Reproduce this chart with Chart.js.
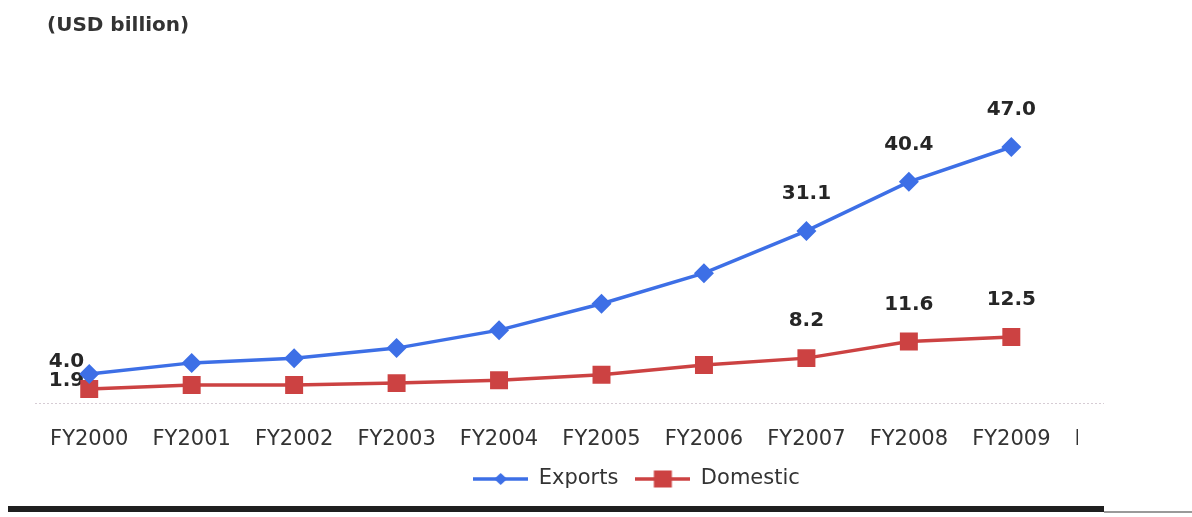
<!DOCTYPE html>
<html>
<head>
<meta charset="utf-8">
<script src="https://cdn.jsdelivr.net/npm/chart.js@4.4.0/dist/chart.umd.min.js"></script>
<style>
  html, body { margin: 0; padding: 0; background: #ffffff; }
  #wrap { width: 1192px; height: 517px; }
</style>
</head>
<body>
<div id="wrap"><canvas id="chart" width="1192" height="517"></canvas></div>
<script>
// Fiscal years on the category axis (the last one is cut off by the page edge)
const categories = ['FY2000', 'FY2001', 'FY2002', 'FY2003', 'FY2004', 'FY2005',
                    'FY2006', 'FY2007', 'FY2008', 'FY2009', 'FY2010'];
// Output in USD billion
const exportsValues  = [4.0, 6.1, 7.0, 8.9, 12.3, 17.3, 23.1, 31.1, 40.4, 47.0, null];
const domesticValues = [1.9, 2.7, 2.7, 3.1, 3.7, 4.8, 6.8, 8.2, 11.6, 12.5, null];
// Points whose value is printed next to the marker
const labelledPoints = [0, 7, 8, 9];

const BLUE = '#3d6fe6';
const RED = '#cc4242';
const TEXT = '#333333';

// Legend swatch: a short line with the series marker in the middle
function legendIcon(color, marker) {
  const c = document.createElement('canvas');
  c.width = 55; c.height = 20;
  const g = c.getContext('2d');
  g.strokeStyle = color; g.lineWidth = 3.5;
  g.beginPath(); g.moveTo(0, 10); g.lineTo(55, 10); g.stroke();
  g.fillStyle = color;
  if (marker === 'diamond') {
    g.beginPath();
    g.moveTo(27.5, 4); g.lineTo(34, 10); g.lineTo(27.5, 16); g.lineTo(21, 10);
    g.closePath(); g.fill();
  } else {
    g.fillRect(18.5, 1.5, 18, 17);
  }
  return c;
}
const icons = [legendIcon(BLUE, 'diamond'), legendIcon(RED, 'square')];

// Value labels above (or left of, for the first year) the marked points
const valueLabels = {
  id: 'valueLabels',
  beforeDatasetsDraw(chart) {
    const ctx = chart.ctx;
    ctx.save();
    ctx.font = 'bold 20px "DejaVu Sans"';
    ctx.fillStyle = '#262626';
    ctx.textBaseline = 'middle';
    chart.data.datasets.forEach((ds, di) => {
      const meta = chart.getDatasetMeta(di);
      labelledPoints.forEach(i => {
        const pt = meta.data[i];
        const text = ds.data[i].toFixed(1);
        if (i === 0) {
          ctx.textAlign = 'right';
          ctx.fillText(text, pt.x - 5, pt.y - (di === 0 ? 12 : 8));
        } else {
          ctx.textAlign = 'center';
          ctx.fillText(text, pt.x, pt.y - 37);
        }
      });
    });
    ctx.restore();
  }
};

// Dotted baseline under the plot, page rule at the bottom, and the page edge
// that cuts off the last category name
const frame = {
  id: 'frame',
  afterLayout(chart) {
    chart.titleBlock.left += 9; chart.titleBlock.right += 9;
    const lg = chart.legend;
    lg.left += 35; lg.right += 35;
    lg.top -= 25.5; lg.bottom -= 25.5;
  },
  beforeDatasetsDraw(chart) {
    const { ctx, chartArea } = chart;
    ctx.save();
    ctx.strokeStyle = '#d6ccd4';
    ctx.lineWidth = 1;
    ctx.setLineDash([2, 2]);
    ctx.beginPath();
    ctx.moveTo(chartArea.left - 3, chartArea.bottom + 0.5);
    ctx.lineTo(chartArea.right - 61, chartArea.bottom + 0.5);
    ctx.stroke();
    ctx.restore();
  },
  afterDraw(chart) {
    const { ctx, chartArea, scales } = chart;
    ctx.save();
    ctx.fillStyle = '#ffffff';
    ctx.fillRect(1078, scales.x.top + 10, chart.width - 1078, 50);
    const ruleEnd = chartArea.right - 61;
    ctx.fillStyle = '#1f1f1f';
    ctx.fillRect(8, 506, ruleEnd - 8, 6);
    ctx.fillStyle = '#9a9a9a';
    ctx.fillRect(ruleEnd, 511, chart.width - ruleEnd, 2);
    ctx.restore();
  }
};

new Chart(document.getElementById('chart'), {
  type: 'line',
  data: {
    labels: categories,
    datasets: [
      {
        label: 'Exports',
        data: exportsValues,
        yAxisID: 'y',
        borderColor: BLUE,
        backgroundColor: BLUE,
        borderWidth: 3.5,
        pointStyle: 'rectRot',
        pointRadius: 10,
        pointBorderWidth: 0,
        pointBackgroundColor: BLUE,
        tension: 0
      },
      {
        label: 'Domestic',
        data: domesticValues,
        yAxisID: 'y2',
        borderColor: RED,
        backgroundColor: RED,
        borderWidth: 3.5,
        pointStyle: 'rect',
        pointRadius: 12.7,
        pointBorderWidth: 0,
        pointBackgroundColor: RED,
        tension: 0
      }
    ]
  },
  options: {
    responsive: false,
    animation: false,
    devicePixelRatio: 1,
    layout: { padding: { left: 38, right: 27, top: 0, bottom: -8 } },
    plugins: {
      title: {
        display: true,
        text: '(USD billion)',
        align: 'start',
        color: TEXT,
        font: { family: 'DejaVu Sans', size: 20, weight: 'bold' },
        padding: { top: 14, bottom: 62 }
      },
      legend: {
        display: true,
        position: 'bottom',
        labels: {
          usePointStyle: true,
          pointStyleWidth: 55,
          boxHeight: 20,
          padding: 17,
          color: TEXT,
          font: { family: 'DejaVu Sans', size: 21 },
          generateLabels(chart) {
            return chart.data.datasets.map((ds, i) => ({
              text: ds.label,
              pointStyle: icons[i],
              fontColor: TEXT,
              datasetIndex: i,
              hidden: false,
              lineWidth: 0,
              strokeStyle: 'transparent',
              fillStyle: 'transparent'
            }));
          }
        }
      },
      tooltip: { enabled: false }
    },
    scales: {
      x: {
        offset: true,
        grid: { display: false, drawTicks: false },
        border: { display: false },
        ticks: {
          autoSkip: false,
          maxRotation: 0,
          padding: 24.4,
          color: TEXT,
          font: { family: 'DejaVu Sans', size: 21 }
        }
      },
      y: {
        display: false,
        min: -1.5,
        max: 55.9
      },
      y2: {
        display: false,
        min: -0.96,
        max: 60.9
      }
    }
  },
  plugins: [valueLabels, frame]
});
</script>
</body>
</html>
